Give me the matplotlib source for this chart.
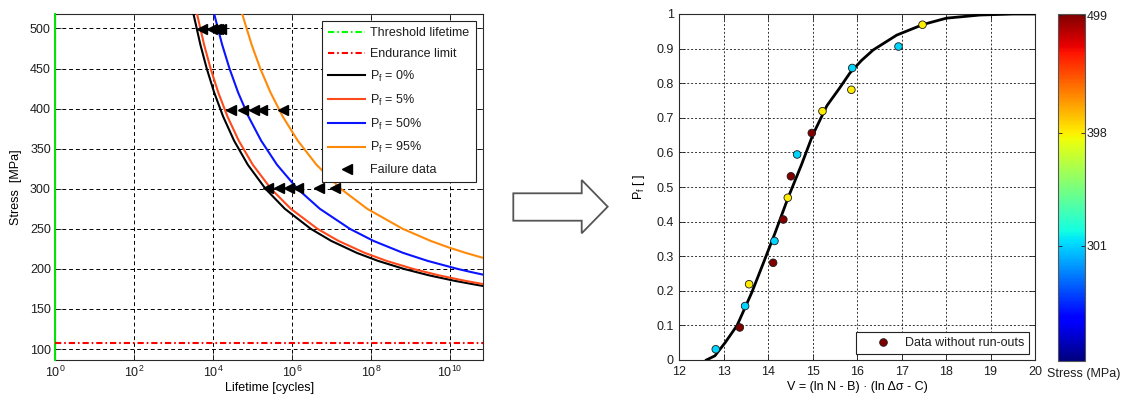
import numpy as np
import matplotlib
matplotlib.use("Agg")
import matplotlib.pyplot as plt
from matplotlib.patches import Polygon
from matplotlib.lines import Line2D
from matplotlib.colors import Normalize
from matplotlib.ticker import NullLocator

plt.rcParams.update({
    "font.family": ["Liberation Sans", "DejaVu Sans"],
    "font.size": 9,
    "mathtext.fontset": "custom",
    "mathtext.rm": "Liberation Sans",
    "mathtext.it": "Liberation Sans:italic",
    "mathtext.bf": "Liberation Sans:bold",
    "mathtext.default": "regular",
    "axes.linewidth": 0.8,
    "axes.edgecolor": "#2a2a2a",
    "text.color": "#1e1e1e",
    "xtick.color": "#1e1e1e",
    "ytick.color": "#1e1e1e",
})

# ---------------- P-S-N curves (log10 of lifetime vs stress amplitude) ----------------
pf0_logN = [3.505, 3.678, 3.840, 4.029, 4.256, 4.532, 4.879, 5.327, 5.817, 6.474,
            6.989, 7.639, 8.177, 8.831, 9.466, 10.130, 10.684, 10.84]
pf0_stress = [518, 480, 450, 420, 390, 360, 330, 300, 275, 250,
              235, 220, 210, 200, 192, 185, 180, 178.7]

pf5_logN = [3.595, 3.772, 3.938, 4.133, 4.366, 4.650, 5.005, 5.466, 5.969, 6.643,
            7.172, 7.839, 8.392, 9.063, 9.715, 10.397, 10.84]
pf5_stress = [518, 480, 450, 420, 390, 360, 330, 300, 275, 250,
              235, 220, 210, 200, 192, 185, 181.0]

pf50_logN = [4.029, 4.229, 4.416, 4.635, 4.897, 5.217, 5.618, 6.136, 6.703, 7.463,
             8.058, 8.810, 9.432, 10.189, 10.539, 10.84]
pf50_stress = [518, 480, 450, 420, 390, 360, 330, 300, 275, 250,
               235, 220, 210, 200, 196, 192.8]

pf95_logN = [4.738, 4.975, 5.195, 5.455, 5.765, 6.144, 6.617, 7.231, 7.902, 8.801,
             9.505, 9.951, 10.394, 10.84]
pf95_stress = [518, 480, 450, 420, 390, 360, 330, 300, 275, 250,
               235, 227, 220, 213.7]

# Failure data (log10 of cycles to failure, stress amplitude in MPa)
fail_logN = [3.73, 3.98, 4.07, 4.13, 4.19,
             4.45, 4.75, 5.04, 5.23, 5.76,
             5.38, 5.68, 5.93, 6.16, 6.67, 7.09]
fail_stress = [499, 499, 499, 499, 499,
               398, 398, 398, 398, 398,
               301, 301, 301, 301, 301, 301]

threshold_lifetime = 1.0
endurance_limit = 107.0

# ---------------- Weibull probability plot ----------------
v_data = [12.82, 13.36, 13.48, 13.57, 14.11, 14.14, 14.34, 14.44,
          14.51, 14.65, 14.98, 15.22, 15.87, 15.89, 16.93, 17.47]
pf_data = [0.031, 0.094, 0.156, 0.219, 0.281, 0.344, 0.406, 0.469,
           0.531, 0.594, 0.656, 0.719, 0.781, 0.844, 0.906, 0.969]
stress_data = [301, 499, 301, 398, 499, 301, 499, 398,
               499, 301, 499, 398, 398, 301, 301, 398]

fit_v = [12.61, 12.80, 13.03, 13.30, 13.63, 13.89, 14.15, 14.45, 14.75, 15.00,
         15.32, 15.60, 15.84, 16.10, 16.36, 16.89, 17.49, 18.01, 18.76, 19.51, 20.00]
fit_pf = [0.000, 0.012, 0.050, 0.100, 0.195, 0.280, 0.366, 0.470, 0.565, 0.650,
          0.735, 0.785, 0.830, 0.866, 0.896, 0.939, 0.970, 0.988, 0.997, 1.000, 1.000]

colorbar_ticks = [301, 398, 499]
stress_range = (202, 500)

# ---------------- figure layout (pixel boxes) ----------------
W, H = 1125, 401
fig = plt.figure(figsize=(W / 100, H / 100), dpi=100)


def px_box(x0, y0, x1, y1):
    return [x0 / W, 1 - y1 / H, (x1 - x0) / W, (y1 - y0) / H]


ax1 = fig.add_axes(px_box(55, 14, 483.3, 360.3))
ax2 = fig.add_axes(px_box(679.3, 14, 1035, 360))
cax = fig.add_axes(px_box(1057.7, 14, 1085, 360.7))

# ---------------- left: stress-life curves ----------------
dashdot = (0, (3.0, 1.4, 0.8, 1.4))
h_thr, = ax1.plot([threshold_lifetime, threshold_lifetime], [0, 1000], color=(0, 1, 0),
                  ls=dashdot, lw=1.5, zorder=3)
ax1.axvline(threshold_lifetime, color=(0, 0.9, 0), lw=1.4, zorder=3, clip_on=False)
h_end = ax1.axhline(endurance_limit, color=(1, 0, 0), ls=dashdot, lw=1.5, zorder=3)
h0, = ax1.plot(10 ** np.array(pf0_logN), pf0_stress, color="k", lw=1.5, zorder=3)
h5, = ax1.plot(10 ** np.array(pf5_logN), pf5_stress, color="#ff4a1c", lw=1.5, zorder=3)
h50, = ax1.plot(10 ** np.array(pf50_logN), pf50_stress, color="#0a14ff", lw=1.5, zorder=3)
h95, = ax1.plot(10 ** np.array(pf95_logN), pf95_stress, color="#ff8a0a", lw=1.5, zorder=3)
hf, = ax1.plot(10 ** np.array(fail_logN), fail_stress, ls="none", marker="<",
               color="k", ms=7, zorder=4)

ax1.set_xscale("log")
ax1.set_xlim(1, 10 ** 10.84)
ax1.set_ylim(86, 518)
ax1.set_xticks([10 ** k for k in range(0, 11, 2)])
ax1.xaxis.set_minor_locator(NullLocator())
ax1.set_yticks(range(100, 501, 50))
ax1.tick_params(direction="in", top=True, right=True, length=4, width=0.6,
                labelsize=9, pad=3)
ax1.set_axisbelow(True)
ax1.grid(True, color="k", lw=0.7, ls=(0, (4, 3)))
ax1.set_xlabel("Lifetime [cycles]", fontsize=9, labelpad=2)
ax1.set_ylabel("Stress  [MPa]", fontsize=9, labelpad=6)

leg1 = ax1.legend(
    [h_thr, h_end, h0, h5, h50, h95, hf],
    ["Threshold lifetime", "Endurance limit", "P$_f$ = 0%", "P$_f$ = 5%",
     "P$_f$ = 50%", "P$_f$ = 95%", "Failure data"],
    loc="upper left", bbox_to_anchor=(0.6227, 0.9798), borderaxespad=0,
    frameon=True, fancybox=False, framealpha=1, edgecolor="#222222",
    handlelength=3.0, handletextpad=0.4, borderpad=0.5, labelspacing=0.7,
    fontsize=9)
leg1.get_frame().set_linewidth(0.8)

# ---------------- arrow between panels ----------------
arrow_px = [(513.3, 193.3), (581.7, 193.3), (581.7, 180.0), (607.7, 206.7),
            (581.7, 233.3), (581.7, 220.7), (513.3, 220.7)]
fig.add_artist(Polygon([(x / W, 1 - y / H) for x, y in arrow_px], closed=True,
                       transform=fig.transFigure, facecolor="white",
                       edgecolor="#555555", lw=1.3))

# ---------------- right: failure probability vs V ----------------
norm = Normalize(*stress_range)
cmap = plt.get_cmap("jet")
ax2.plot(fit_v, fit_pf, color="k", lw=2, zorder=3)
sc = ax2.scatter(v_data, pf_data, c=stress_data, cmap=cmap, norm=norm, s=30,
                 edgecolors="#1a1a1a", linewidths=0.6, zorder=4)
ax2.set_xlim(12, 20)
ax2.set_ylim(0, 1)
ax2.set_xticks(range(12, 21))
yt = np.round(np.arange(0, 1.01, 0.1), 1)
ax2.set_yticks(yt)
ax2.set_yticklabels(["0"] + [f"{t:.1f}" for t in yt[1:-1]] + ["1"])
ax2.tick_params(direction="in", top=True, right=True, length=4, width=0.6,
                labelsize=9)
ax2.tick_params(axis="x", pad=4.5)
ax2.tick_params(axis="y", pad=4)
ax2.set_axisbelow(True)
ax2.grid(True, color="#333333", lw=0.7, ls=(0, (2, 2)))
ax2.set_xlabel("V = (ln N - B) · (ln Δσ - C)", fontsize=9, labelpad=2)
ax2.set_ylabel("P$_f$ [ ]", fontsize=9, labelpad=7)

proxy = Line2D([], [], ls="none", marker="o", ms=5.5,
               markerfacecolor=cmap(norm(max(stress_data))), markeredgecolor="#1a1a1a",
               markeredgewidth=0.6)
leg2 = ax2.legend([proxy], ["Data without run-outs"], loc="lower right",
                  frameon=True, fancybox=False, framealpha=1, edgecolor="#222222",
                  handlelength=3.4, handletextpad=0.1, borderpad=0.4,
                  borderaxespad=0.45, fontsize=9, numpoints=1)
leg2.get_frame().set_linewidth(0.8)

cbar = fig.colorbar(sc, cax=cax, ticks=colorbar_ticks)
cax.tick_params(direction="in", left=True, right=True, length=3, width=0.6,
                labelsize=9, pad=1)
cbar.outline.set_linewidth(0.8)
cbar.outline.set_edgecolor("#555555")
fig.text(1084 / W, 1 - 374 / H, "Stress (MPa)", ha="center", va="center", fontsize=9)

fig.savefig("out.png", dpi=100)
